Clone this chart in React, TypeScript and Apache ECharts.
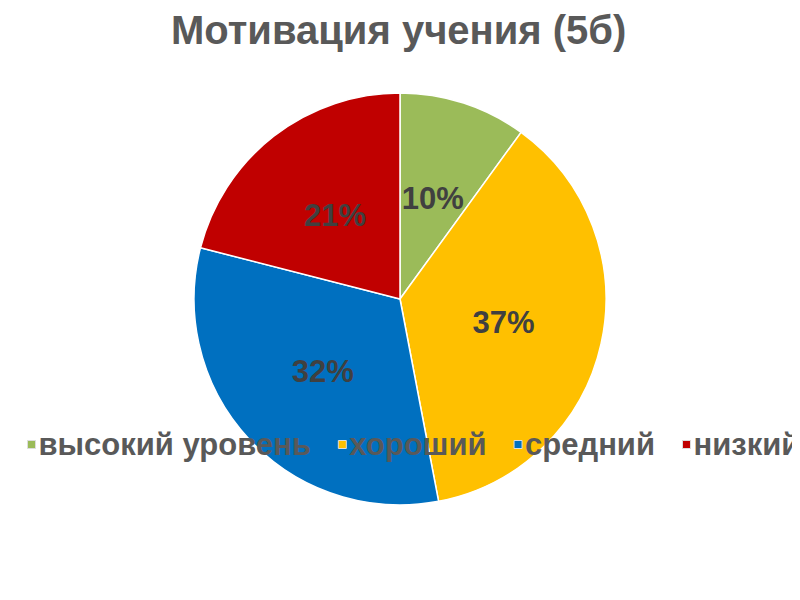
import React, { useEffect, useRef } from "react";
import * as echarts from "echarts";

const TITLE = "Мотивация учения (5б)";
const categories = ["высокий уровень", "хороший", "средний", "низкий"];
const values = [10, 37, 32, 21];
const colors = ["#9BBB59", "#FFC000", "#0070C0", "#C00000"];

const FONT = "'Liberation Sans', Arial, sans-serif";

export default function App() {
  const ref = useRef<HTMLDivElement>(null);
  useEffect(() => {
    if (!ref.current) return;
    const chart = echarts.init(ref.current, undefined, { renderer: "svg" });
    chart.setOption({
      animation: false,
      backgroundColor: "#ffffff",
      title: {
        text: TITLE,
        left: 163,
        top: 2,
        padding: 0,
        textStyle: { fontFamily: FONT, fontSize: 40, fontWeight: "bold", color: "#595959" },
      },
      legend: {
        data: categories,
        left: 19,
        top: 421,
        padding: 0,
        width: 900,
        icon: "rect",
        itemWidth: 8,
        itemHeight: 8,
        itemGap: 27,
        itemStyle: { borderColor: "#dddddd", borderWidth: 1 },
        textStyle: { fontFamily: FONT, fontSize: 31, fontWeight: "bold", color: "#595959", padding: [0, 0, 0, -2] },
      },
      series: [
        {
          type: "pie",
          center: [392, 291],
          radius: 206,
          startAngle: 90,
          clockwise: true,
          itemStyle: { borderColor: "#ffffff", borderWidth: 1.5 },
          label: {
            show: true,
            position: "inside",
            formatter: "{d}%",
            fontFamily: FONT,
            fontSize: 31,
            fontWeight: "bold",
            color: "#404040",
          },
          labelLine: { show: false },
          data: categories.map((name, i) => ({
            name,
            value: values[i],
            itemStyle: { color: colors[i] },
          })),
        },
      ],
    });
    return () => chart.dispose();
  }, []);
  return <div ref={ref} style={{ width: 792, height: 592 }} />;
}
